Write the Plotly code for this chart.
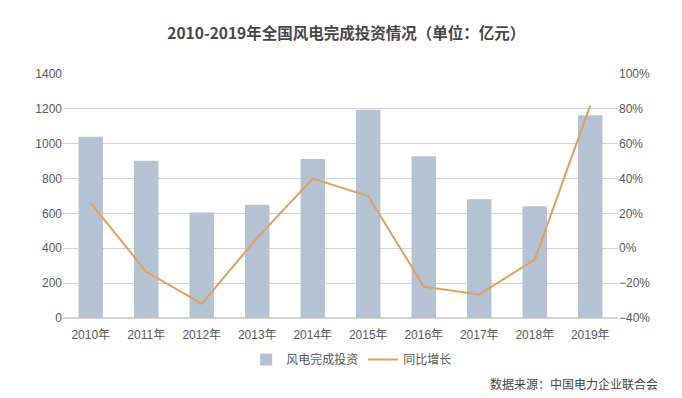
import plotly.graph_objects as go

years = ["2010年", "2011年", "2012年", "2013年", "2014年", "2015年", "2016年", "2017年", "2018年", "2019年"]
investment = [1040, 902, 605, 650, 912, 1195, 928, 682, 641, 1163]
growth = [26, -13.5, -31.8, 6, 40, 30, -22, -26.5, -6.5, 82]

FONT = "Liberation Sans, Noto Sans CJK SC, sans-serif"
fig = go.Figure()
fig.add_trace(go.Bar(x=years, y=investment, name="风电完成投资",
                     marker=dict(color="#b4c3d3", line=dict(width=0))))
fig.add_trace(go.Scatter(x=years, y=growth, name="同比增长", mode="lines",
                         line=dict(color="#e49f5b", width=2), yaxis="y2"))

fig.update_layout(
    width=682, height=398,
    margin=dict(l=55, r=72, t=66, b=88),
    paper_bgcolor="white", plot_bgcolor="white",
    bargap=0.56,
    font=dict(family=FONT, size=12, color="#595959"),
    title=dict(text="<b>2010-2019年全国风电完成投资情况（单位：亿元）</b>",
               x=0.496, xanchor="center", y=0.935, yanchor="middle",
               font=dict(family="Noto Sans CJK SC, sans-serif", size=15.5, color="#474747")),
    xaxis=dict(showgrid=False, showline=False, ticks="", tickfont=dict(size=12),
               ticklabelstandoff=8),
    yaxis=dict(range=[0, 1400], dtick=200, showgrid=True, gridcolor="#d4d4d4",
               gridwidth=1, zeroline=True, zerolinecolor="#d4d4d4", ticks="",
               tickfont=dict(size=12)),
    yaxis2=dict(range=[-40, 100], dtick=20, ticksuffix="%", overlaying="y", side="right",
                showgrid=False, zeroline=False, ticks="", tickfont=dict(size=12)),
    legend=dict(orientation="h", x=0.33, xanchor="left", y=-0.17, yanchor="middle",
                font=dict(family="Noto Sans CJK SC, sans-serif", size=12, color="#595959")),
    annotations=[dict(text="数据来源：中国电力企业联合会", xref="paper", yref="paper",
                      x=1.076, y=-0.27, xanchor="right", yanchor="middle", showarrow=False,
                      font=dict(family="Noto Sans CJK SC, sans-serif", size=12, color="#444444"))],
)
fig.write_html("out.html")
